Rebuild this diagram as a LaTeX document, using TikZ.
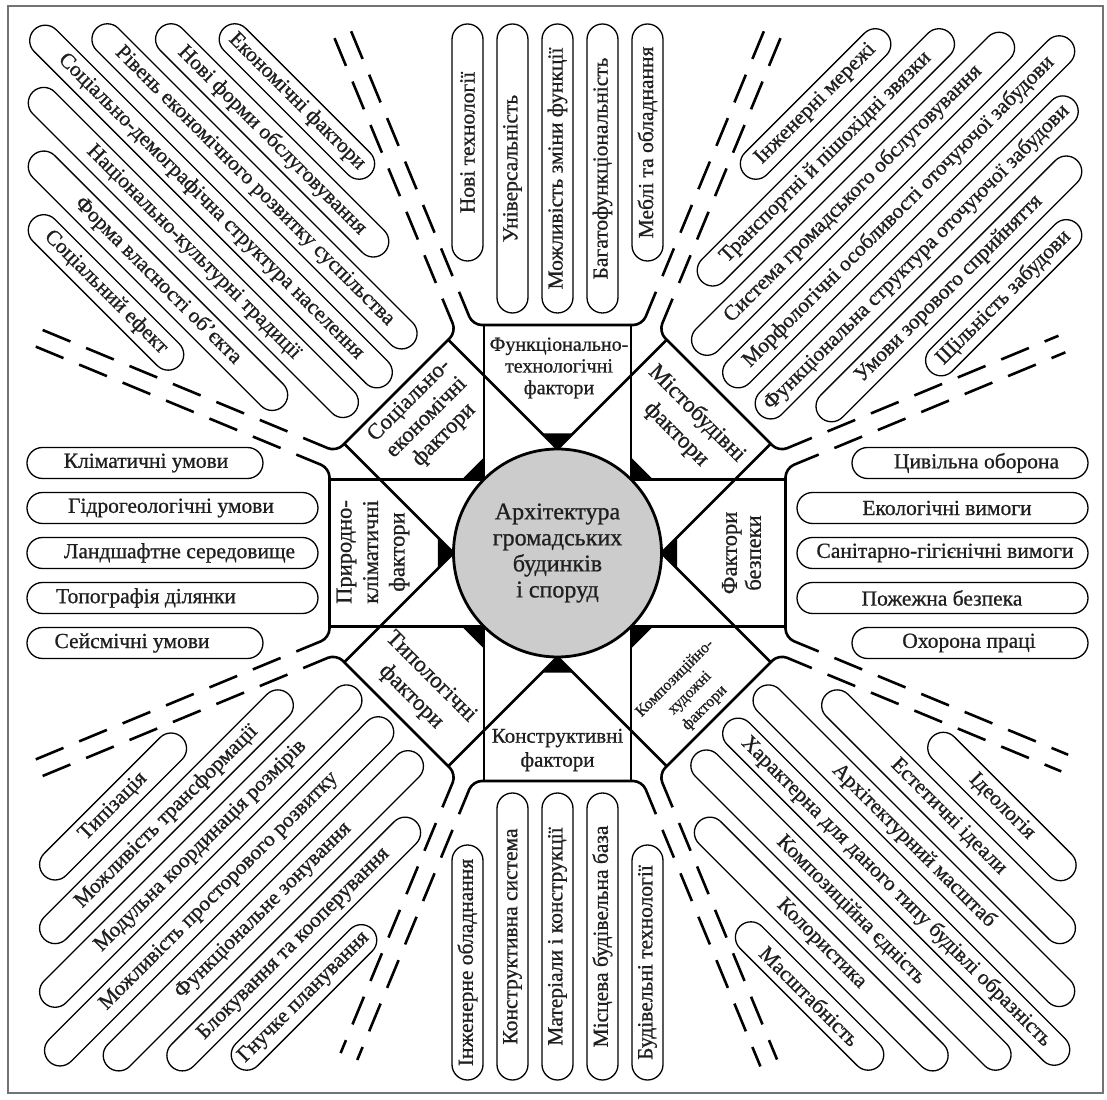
\documentclass[tikz,border=0pt]{standalone}
\usepackage{fontspec}
\setmainfont{Liberation Serif}[FakeBold=0.8]
\usetikzlibrary{calc}
\def\armw{73.5}
\def\armD{228}
\def\circR{104}
\def\prot{0}
\tikzset{
 armline/.style={line width=2.6pt},
 sepdash/.style={line width=2.6pt, dash pattern=on 30pt off 17pt},
 pillline/.style={line width=1.3pt},
 ptext/.style={font=\fontsize{21.5}{24}\selectfont, inner sep=0pt, text=black!88},
 lab/.style={align=center, inner sep=0pt, text=black!88},
}
\newcommand\mypill[5]{%
 \draw[pillline] ({#1+15.5},{#3-15.5}) -- ({#2-15.5},{#3-15.5}) arc[start angle=-90,end angle=90,radius=15.5] -- ({#1+15.5},{#3+15.5}) arc[start angle=90,end angle=270,radius=15.5] -- cycle;
 \node[ptext, rotate=\prot] at ({#4},{#3}) {#5};}
\newcommand\mypillc[4]{\mypill{#1}{#2}{#3}{(#1+#2)/2}{#4}}

\begin{document}
\begin{tikzpicture}[x=1pt,y=1pt]
\useasboundingbox (-557.5,-546) rectangle (549.5,553);
\draw[black!55, line width=1.2pt] (-549.5,-540) rectangle (545.5,547);

% arms, brackets, separators
\foreach \k/\tL/\tR in {0/571/573,1/574/571,2/574/574,3/545/574,4/552/545,5/549/552,6/546/549,7/573/546}{
 \begin{scope}[rotate=45*\k]
  \draw[armline] (-\armw,\armw) -- (-\armw,\armD);
  \draw[armline] (\armw,\armw) -- (\armw,\armD);
  \draw[armline, rounded corners=9pt] ($(112.5:279)+(22.5:9)$) -- (-84.75,\armD) -- (84.75,\armD) -- ($(67.5:279)+(157.5:9)$);
  \draw[sepdash] ($(112.5:296)+(22.5:9)$) -- ($(112.5:\tL)+(22.5:9)$);
  \draw[sepdash] ($(67.5:296)+(157.5:9)$) -- ($(67.5:\tR)+(157.5:9)$);
 \end{scope}
}

% central circle
\draw[line width=2.8pt, fill=black!20] (0,0) circle (\circR);
\foreach \k in {0,...,7}{
 \fill[rotate=45*\k] (0,\circR) -- ++(135:22) -- ++(0:31.1) -- cycle;
}
\node[lab, font=\fontsize{24}{26}\selectfont] (centre) at (0,0) {Архітектура\\громадських\\будинків\\і споруд};

% arm labels
\node[lab, font=\fontsize{20}{21.7}\selectfont] (fN) at (1.5,185) {Функціонально-\\технологічні\\фактори};
\node[lab, rotate=-45, font=\fontsize{23}{29}\selectfont] (fNE) at (129,129) {Містобудівні\\фактори};
\node[lab, rotate=45, font=\fontsize{22.5}{24.5}\selectfont] (fNW) at (-130.5,135) {Соціально-\\економічні\\фактори};
\node[lab, rotate=90, font=\fontsize{22.5}{26.5}\selectfont] (fW) at (-184.5,1) {Природно-\\кліматичні\\фактори};
\node[lab, rotate=90, font=\fontsize{22.5}{24}\selectfont] (fE) at (184,0) {Фактори\\безпеки};
\node[lab, rotate=-45, font=\fontsize{23}{28}\selectfont] (fSW) at (-136.8,-134) {Типологічні\\фактори};
\node[lab, font=\fontsize{21}{24}\selectfont] (fS) at (0,-197) {Конструктивні\\фактори};
\node[lab, rotate=45, font=\fontsize{16}{21}\selectfont] (fSE) at (132.5,-140.3) {Композиційно-\\художні\\фактори};

% top list
\begin{scope}[rotate=90]\def\prot{90}
\mypillc{292}{529}{90}{Нові технології}
\mypillc{240}{529}{45}{Універсальність}
\mypillc{240}{529}{0}{Можливість зміни функції}
\mypillc{240}{529}{-45}{Багатофункціональність}
\mypillc{292}{529}{-90}{Меблі та обладнання}
\end{scope}

% bottom list
\begin{scope}[rotate=270]\def\prot{90}
\mypillc{292}{527}{-90}{Інженерне обладнання}
\mypillc{240}{527}{-45}{Конструктивна система}
\mypillc{240}{527}{0}{Матеріали і конструкції}
\mypillc{240}{527}{45}{Місцева будівельна база}
\mypillc{292}{527}{90}{Будівельні технології}
\end{scope}

% left list
\begin{scope}[rotate=180]\def\prot{0}
\mypill{294.5}{530.5}{-90}{411.5}{Кліматичні умови}
\mypill{239.5}{530.5}{-45}{386.5}{Гідрогеологічні умови}
\mypill{239.5}{530.5}{0}{378}{Ландшафтне середовище}
\mypill{239.5}{530.5}{45}{411.5}{Топографія ділянки}
\mypill{294.5}{530.5}{90}{425.5}{Сейсмічні умови}
\end{scope}

% right list
\begin{scope}\def\prot{0}
\mypill{294.5}{530.5}{90}{419}{Цивільна оборона}
\mypill{239.5}{530.5}{45}{389.5}{Екологічні вимоги}
\mypill{239.5}{530.5}{0}{387.5}{Санітарно-гігієнічні вимоги}
\mypill{239.5}{530.5}{-45}{384.5}{Пожежна безпека}
\mypill{294.5}{530.5}{-90}{411.5}{Охорона праці}
\end{scope}

% NW list
\begin{scope}[rotate=135]\def\prot{-45}
\mypillc{400}{607}{-135}{Економічні фактори}
\mypillc{335}{652}{-90}{Нові форми обслуговування}
\mypillc{250}{697}{-45}{Рівень економічного розвитку суспільства}
\mypillc{240}{740}{0}{Соціально-демографічна структура населення}
\mypillc{243}{697}{45}{Національно-культурні традиції}
\mypillc{298}{652}{90}{Форма власності об’єкта}
\mypillc{400}{607}{135}{Соціальний ефект}
\end{scope}

% NE list
\begin{scope}[rotate=45]\def\prot{45}
\mypillc{400}{600}{135}{Інженерні мережі}
\mypillc{294}{645}{90}{Транспортні й пішохідні звязки}
\mypillc{241}{685}{45}{Система громадського обслуговування}
\mypillc{240}{725}{0}{Морфологічні особливості оточуючої забудови}
\mypillc{241}{685}{-45}{Функціональна структура оточуючої забудови}
\mypillc{282}{645}{-90}{Умови зорового сприйняття}
\mypillc{392}{600}{-135}{Щільність забудови}
\end{scope}

% SW list
\begin{scope}[rotate=225]\def\prot{45}
\mypillc{396}{591}{-135}{Типізація}
\mypillc{290}{636}{-90}{Можливість трансформації}
\mypillc{238}{681}{-45}{Модульна координація розмірів}
\mypillc{238}{719}{0}{Можливість просторового розвитку}
\mypillc{241}{681}{45}{Функціональне зонування}
\mypillc{290}{636}{90}{Блокування та кооперування}
\mypillc{397}{590}{135}{Гнучке планування}
\end{scope}

% SE list
\begin{scope}[rotate=315]\def\prot{-45}
\mypillc{395}{592}{135}{Ідеологія}
\mypillc{290}{636}{90}{Естетичні ідеали}
\mypillc{238}{680}{45}{Архітектурний масштаб}
\mypillc{240}{718}{0}{Характерна для даного типу будівлі образність}
\mypillc{240}{680}{-45}{Композиційна єдність}
\mypillc{290}{636}{-90}{Колористика}
\mypillc{393}{590}{-135}{Масштабність}
\end{scope}
\end{tikzpicture}
\end{document}
